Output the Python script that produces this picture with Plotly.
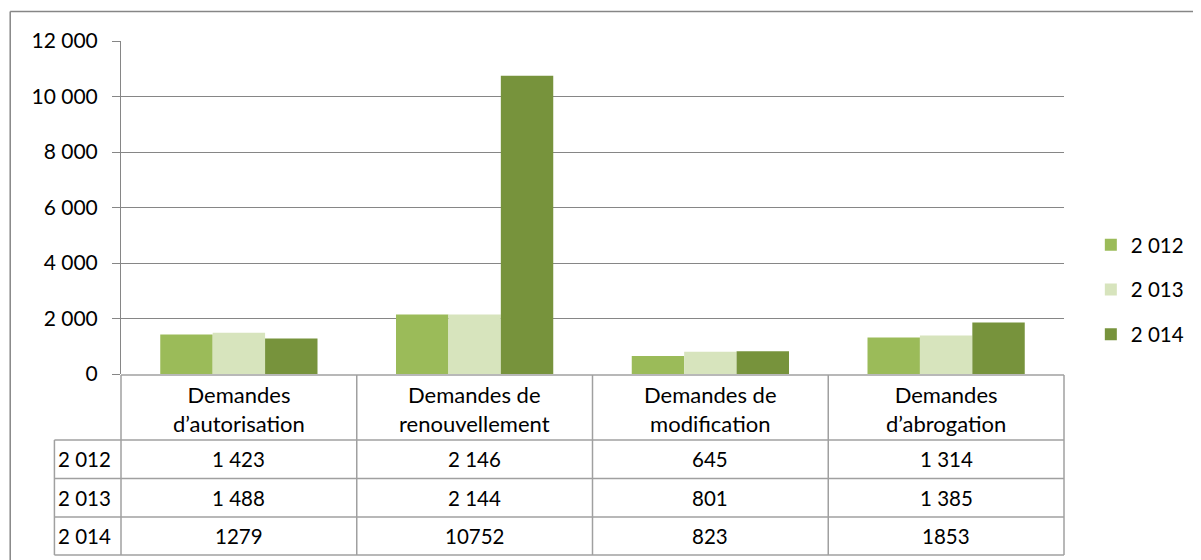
import plotly.graph_objects as go

categories = ["Demandes<br>d’autorisation", "Demandes de<br>renouvellement",
              "Demandes de<br>modification", "Demandes<br>d’abrogation"]
series_names = ["2 012", "2 013", "2 014"]
values_2012 = [1423, 2146, 645, 1314]
values_2013 = [1488, 2144, 801, 1385]
values_2014 = [1279, 10752, 823, 1853]
y_ticks = [0, 2000, 4000, 6000, 8000, 10000, 12000]

series_values = [values_2012, values_2013, values_2014]
colors = ["#9BBB59", "#D7E4BD", "#77933C"]
# table formatting: 2012/2013 rows use thousands separators, 2014 row does not
use_sep = [True, True, False]

PAGE_W, PAGE_H = 1201, 560
OFF = 8  # default body margin of the html page
W, H = PAGE_W - OFF, PAGE_H - OFF
L, R, T, B = 121, 1070, 41, 374  # plot area in page px
FONT = "Lato, Carlito, Calibri, sans-serif"
FS_NUM = 20.5
FS_TXT = 22
GRID = "#868686"
TBL = "#A0A0A0"

def px_x(px):
    return (px - L) / (R - L)

def px_y(py):
    return (B - py) / (B - T)

x_idx = list(range(len(categories)))

fig = go.Figure()
for name, vals, col in zip(series_names, series_values, colors):
    fig.add_trace(go.Bar(x=x_idx, y=vals, name=name, marker_color=col,
                         marker_line_width=0, legendgroup=name))

shapes = []
annotations = []

# outer chart border (top and left visible)
shapes.append(dict(type="line", xref="paper", yref="paper", x0=px_x(9.5), x1=px_x(PAGE_W + 20),
                   y0=px_y(11.5), y1=px_y(11.5), line=dict(color=GRID, width=1.5)))
shapes.append(dict(type="line", xref="paper", yref="paper", x0=px_x(9.5), x1=px_x(9.5),
                   y0=px_y(11.5), y1=px_y(PAGE_H + 20), line=dict(color=GRID, width=1.5)))

# table geometry (layout)
tbl_top, hdr_bot = 375, 440
row_bounds = [440, 478.5, 517, 555]
tbl_left = 54

line_style = dict(color=TBL, width=1.5)
shapes.append(dict(type="line", xref="paper", yref="paper", x0=0, x1=1,
                   y0=px_y(tbl_top), y1=px_y(tbl_top), line=line_style))
for yb in row_bounds:
    shapes.append(dict(type="line", xref="paper", yref="paper", x0=px_x(tbl_left), x1=1,
                       y0=px_y(yb), y1=px_y(yb), line=line_style))
shapes.append(dict(type="line", xref="paper", yref="paper", x0=px_x(tbl_left), x1=px_x(tbl_left),
                   y0=px_y(hdr_bot), y1=px_y(row_bounds[-1]), line=line_style))
for xp in (0, 1):
    shapes.append(dict(type="line", xref="paper", yref="paper", x0=xp, x1=xp,
                       y0=px_y(tbl_top), y1=px_y(row_bounds[-1]), line=line_style))
for i in x_idx[:-1]:
    shapes.append(dict(type="line", xref="x", yref="paper", x0=i + 0.5, x1=i + 0.5,
                       y0=px_y(tbl_top), y1=px_y(row_bounds[-1]), line=line_style))

# header text
for i, cat in zip(x_idx, categories):
    annotations.append(dict(x=i, y=px_y((tbl_top + hdr_bot) / 2 + 1), xref="x", yref="paper",
                            text=cat, showarrow=False,
                            font=dict(family=FONT, size=FS_TXT, color="#000"),
                            xanchor="center", yanchor="middle"))

# rows
for r, (name, vals, sep) in enumerate(zip(series_names, series_values, use_sep)):
    yc = px_y((row_bounds[r] + row_bounds[r + 1]) / 2)
    annotations.append(dict(x=px_x(tbl_left + 2), y=yc, xref="paper", yref="paper", text=name,
                            showarrow=False, font=dict(family=FONT, size=FS_NUM, color="#000"),
                            xanchor="left", yanchor="middle"))
    for i, v in zip(x_idx, vals):
        txt = f"{v:,}".replace(",", " ") if sep else f"{v}"
        annotations.append(dict(x=i, y=yc, xref="x", yref="paper", text=txt, showarrow=False,
                                font=dict(family=FONT, size=FS_NUM, color="#000"),
                                xanchor="center", yanchor="middle"))

fig.update_layout(
    width=W, height=H,
    margin=dict(l=L - OFF, r=PAGE_W - R, t=T - OFF, b=PAGE_H - B, pad=0),
    paper_bgcolor="white", plot_bgcolor="white",
    separators=", ",
    barmode="group", bargap=0.333, bargroupgap=0,
    font=dict(family=FONT, size=FS_NUM, color="#000"),
    showlegend=True,
    legend=dict(x=px_x(1097), y=px_y(225), xanchor="left", yanchor="top",
                font=dict(family=FONT, size=FS_NUM, color="#000"),
                tracegroupgap=15, itemwidth=30, bgcolor="rgba(0,0,0,0)"),
    xaxis=dict(range=[-0.5, 3.5], showticklabels=False, showgrid=False, zeroline=False,
               showline=False, ticks="", fixedrange=True),
    yaxis=dict(range=[0, 12000], tickvals=y_ticks, tickformat=",d", showgrid=True,
               gridcolor=GRID, gridwidth=1, zeroline=False, showline=True, linecolor=GRID,
               linewidth=1, ticks="outside", ticklen=8, tickcolor=GRID,
               ticklabelstandoff=10, tickfont=dict(family=FONT, size=21, color="#000")),
    shapes=shapes,
    annotations=annotations,
)

fig.write_html("out.html")
